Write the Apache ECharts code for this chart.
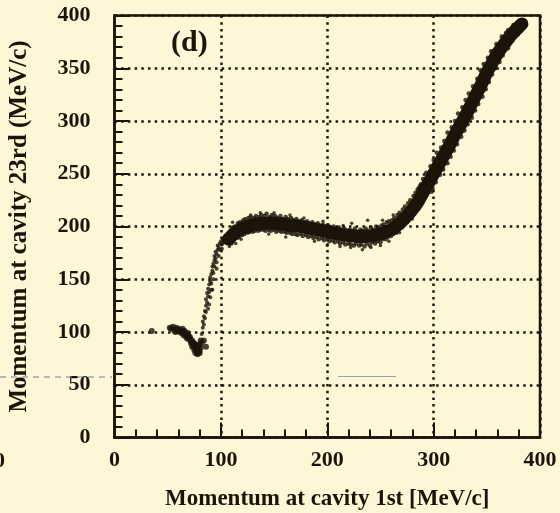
<!DOCTYPE html>
<html>
<head>
<meta charset="utf-8">
<script src="https://cdn.jsdelivr.net/npm/echarts@6/dist/echarts.min.js"></script>
<style>
  html, body { margin: 0; padding: 0; background: #fef6d5; }
  #chart { width: 560px; height: 513px; }
</style>
</head>
<body>
<div id="chart"></div>
<script>
// Axis ranges and tick settings (MeV/c)
const xTicks = [0, 100, 200, 300, 400];
const yTicks = [0, 50, 100, 150, 200, 250, 300, 350, 400];

// Low-momentum cluster near the dip
const lowCluster = [
  [35,101],[52,104],[53,103],[55,105],[56,102],[57,100],[58,104],[59,101],[60,103],[61,100],
  [62,102],[63,99],[64,101],[64,103],[65,97],[66,99],[67,96],[68,94],[69,97],[70,93],[70,96],
  [71,95],[72,91],[72,89],[73,92],[73,86],[74,88],[74,90],[75,86],[75,89],[76,84],[76,87],
  [76,80],[77,82],[77,85],[78,81],[78,84],[78,79],[79,83],[79,86],[80,82],[80,88],[80,80],
  [81,85],[81,92],[82,90],[86,86],[84,92],[75,83],[77,88],[79,80],[66,101],[69,99]
];

// Sparse rising branch towards the plateau
const riseBranch = [
  [82,98],[83,104],[83,110],[84,115],[85,120],[85,113],[86,125],[86,131],[87,128],[87,137],
  [88,134],[88,141],[88,122],[89,145],[89,138],[90,148],[90,152],[91,155],[91,146],[92,158],
  [92,162],[92,140],[93,165],[93,156],[94,168],[94,172],[95,170],[95,176],[96,174],[96,160],
  [97,178],[97,182],[98,180],[99,184],[99,178],[100,186],[101,183],[102,188],[103,185],
  [104,190],[105,187],[106,192],[107,189],[84,107],[86,119],[90,133],[94,162],[89,126],
  [91,140],[93,150],[96,166],[98,172],[101,179]
];

// Dense ridge centre
const ridgeCore = [
  [107,188],[112,193],[116,196],[120,198],[125,200],[130,201.5],[135,202.5],[140,203],[145,203.5],
  [150,203],[155,202.5],[160,202],[165,201],[170,200.5],[175,200],[180,199],[185,198],[190,197],
  [195,196],[200,195],[205,194],[210,193],[215,192],[220,191.5],[225,191],[230,190.5],[235,190.5],
  [240,191],[245,192],[250,193],[255,195],[260,197],[265,200.5],[270,205],[275,210],[280,216],
  [285,223],[290,232],[295,241],[300,250],[305,259],[310,268],[315,277],[320,287],[325,296],
  [330,305],[335,315],[340,325],[345,335],[350,346],[355,355],[360,364],[365,371],[370,378],
  [375,384],[380,389],[383,392]
];

// Upper edge of the ridge band
const ridgeUpper = [
  [109,196],[111,199],[113,200],[116,203],[118,204],[121,206],[123,207],[126,208],[128,209],
  [131,208],[133,210],[136,209],[138,211],[141,210],[143,212],[146,209],[148,211],[151,210],
  [153,208],[156,210],[158,207],[161,209],[163,207],[166,208],[168,206],[171,207],[173,205],
  [176,206],[178,204],[181,205],[183,203],[186,204],[188,202],[191,203],[193,201],[196,202],
  [198,200],[201,201],[203,199],[206,200],[208,198],[211,199],[213,197],[216,198],[218,196],
  [221,197],[223,196],[226,198],[228,195],[231,197],[233,196],[236,198],[238,196],[241,199],
  [243,197],[246,200],[248,199],[251,201],[253,202],[256,204],[258,205],[261,206],[263,208],
  [266,211],[268,213],[271,216],[273,219],[276,222],[278,225],[281,229],[283,232],[286,236],[288,240]
];

// Lower edge of the ridge band
const ridgeLower = [
  [110,184],[112,187],[115,189],[117,190],[120,192],[122,193],[125,194],[127,195],[130,195],
  [132,196],[135,196],[137,197],[140,197],[142,196],[145,197],[147,196],[150,197],[152,195],
  [155,196],[157,195],[160,195],[162,194],[165,194],[167,193],[170,193],[172,192],[175,193],
  [177,191],[180,192],[182,190],[185,191],[187,189],[190,190],[192,188],[195,189],[197,187],
  [200,188],[202,186],[205,187],[207,185],[210,186],[212,184],[215,185],[217,183],[220,184],
  [222,183],[225,182],[227,184],[230,182],[232,183],[235,181],[237,184],[240,182],[242,185],
  [245,184],[247,186],[250,185],[252,188],[255,188],[257,190],[260,191],[262,193],[265,194],
  [267,197],[270,199],[272,202],[275,204],[277,207],[280,210],[282,213],[285,217],[287,221],[290,226]
];

// Scattered events around the plateau
const ridgeStray = [
  [150,213],[165,211],[178,208],[196,205],[215,201],[223,203],[238,206],[252,206],[262,211],
  [137,213],[128,211],[200,182],[222,180],[241,180],[233,178],[212,181],[188,186],[161,190],
  [145,193],[250,182],[258,186],[268,194],[280,207],[119,188],[114,184],[108,181],[111,204]
];

// Steep high-momentum branch: left and right edges
const climbLeft = [
  [285,235],[287,238],[290,245],[293,251],[297,257],[300,263],[303,270],[307,275],[310,281],
  [313,289],[317,294],[320,300],[323,307],[327,313],[330,320],[333,326],[337,333],[341,340],
  [344,348],[347,354],[351,360],[354,366],[359,373],[364,380],[370,386],[375,391],[382,395]
];
const climbRight = [
  [298,233],[299,236],[302,242],[306,249],[309,254],[313,260],[316,266],[319,272],[322,278],
  [326,285],[329,291],[332,297],[336,303],[339,310],[342,316],[346,323],[349,330],[352,337],
  [355,344],[358,350],[362,356],[365,362],[370,369],[374,376],[379,382],[383,387],[385,392]
];
const climbStray = [
  [289,230],[292,240],[295,247],[298,253],[304,258],[308,266],[312,271],[318,282],[322,290],
  [328,298],[331,308],[338,318],[344,327],[348,342],[354,349],[357,361],[362,367],[367,374],
  [372,381],[377,387],[379,392],[387,391],[368,384],[342,338],[356,366]
];

const ink = '#1c1409';
const serif = "'Liberation Serif', 'Times New Roman', serif";
const tickFont = { fontFamily: serif, fontWeight: 'bold', fontSize: 22, color: ink };

const chart = echarts.init(document.getElementById('chart'), null, { renderer: 'canvas' });

const dots = (data, size) => ({
  type: 'scatter', data, symbol: 'circle', symbolSize: size,
  itemStyle: { color: ink }, silent: true, z: 4
});

const gridDots = { color: '#1f170c', width: 2.5, type: [2.5, 4.2] };

chart.setOption({
  backgroundColor: '#fef6d5',
  animation: false,
  grid: {
    left: 114.5, right: 20, top: 15.5, bottom: 75.5,
    containLabel: false, outerBoundsMode: 'none',
    show: true, borderColor: ink, borderWidth: 2.5, backgroundColor: 'transparent'
  },
  xAxis: {
    type: 'value', min: xTicks[0], max: xTicks[xTicks.length - 1], interval: 100,
    name: 'Momentum at cavity 1st [MeV/c]', nameLocation: 'middle', nameGap: 50,
    nameTextStyle: { fontFamily: serif, fontWeight: 'bold', fontSize: 23, color: ink },
    axisLine: { show: true, lineStyle: { color: ink, width: 2.5 } },
    axisTick: { show: true, inside: true, length: 15, lineStyle: { color: ink, width: 2 } },
    minorTick: { show: true, splitNumber: 5, length: 8, lineStyle: { color: ink, width: 2 } },
    splitLine: { show: true, lineStyle: gridDots },
    axisLabel: Object.assign({ margin: 12, formatter: v => String(v) }, tickFont)
  },
  yAxis: {
    type: 'value', min: yTicks[0], max: yTicks[yTicks.length - 1], interval: 50,
    name: 'Momentum at cavity 23rd (MeV/c)', nameLocation: 'middle', nameGap: 82,
    nameTextStyle: { fontFamily: serif, fontWeight: 'bold', fontSize: 25, color: ink },
    axisLine: { show: true, lineStyle: { color: ink, width: 2.5 } },
    axisTick: { show: true, inside: true, length: 15, lineStyle: { color: ink, width: 2 } },
    minorTick: { show: true, splitNumber: 5, length: 8, lineStyle: { color: ink, width: 2 } },
    splitLine: { show: true, lineStyle: gridDots },
    axisLabel: Object.assign({ margin: 24, formatter: v => String(v) }, tickFont)
  },
  graphic: [
    { type: 'text', left: 171, top: 28, z: 10,
      style: { text: '(d)', font: "bold 30px 'Liberation Serif', serif", fill: ink } },
    { type: 'text', left: -6, top: 450, z: 10,
      style: { text: '0', font: "bold 22px 'Liberation Serif', serif", fill: ink } },
    { type: 'line', z: 1, shape: { x1: 0, y1: 377, x2: 112, y2: 377 },
      style: { stroke: '#6f7d9c', lineWidth: 1, lineDash: [6, 5] } },
    { type: 'line', z: 1, shape: { x1: 338, y1: 376.5, x2: 396, y2: 376.5 },
      style: { stroke: '#9ba0ad', lineWidth: 1 } }
  ],
  series: [
    {
      type: 'line', data: ridgeCore, smooth: 0.3, showSymbol: false, silent: true, z: 3,
      lineStyle: { color: ink, width: 13, cap: 'round', join: 'round' }
    },
    dots(lowCluster, 6),
    dots(riseBranch, 4),
    dots(ridgeUpper, 4.5),
    dots(ridgeLower, 4.5),
    dots(ridgeStray, 3.5),
    dots(climbLeft, 4.5),
    dots(climbRight, 4.5),
    dots(climbStray, 4)
  ]
});
</script>
</body>
</html>
